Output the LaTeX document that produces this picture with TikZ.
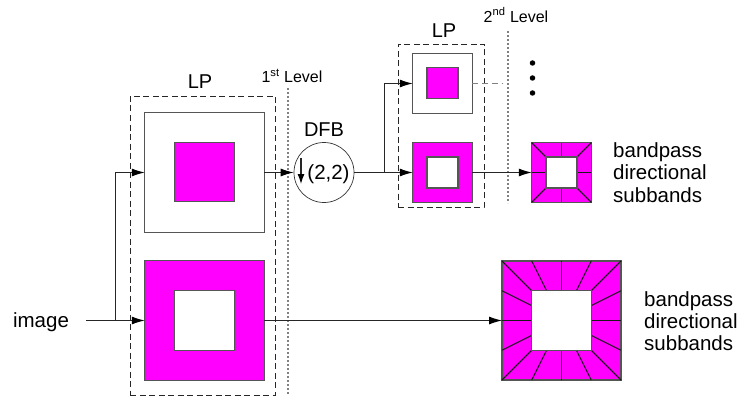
\documentclass[tikz,border=0pt]{standalone}
\usepackage{fontspec}
\setmainfont{Liberation Sans}
\usetikzlibrary{calc,arrows.meta}
\usepackage{xcolor}
\definecolor{band}{RGB}{255,0,255}
\definecolor{edge}{RGB}{85,85,85}
\begin{document}
\begin{tikzpicture}[x=1pt,y=-1pt,
			sq/.style={draw=edge,line width=1.1pt,inner sep=0pt,outer sep=0pt,minimum size=#1},
			lpbox/.style={draw=black!85,line width=0.95pt,dash pattern=on 6pt off 3.5pt,inner sep=0pt},
			lvl/.style={draw=gray,line width=1.1pt,dash pattern=on 2pt off 2pt},
			wire/.style={draw=black!85,line width=0.95pt},
			cut/.style={draw=black!90,line width=0.95pt},
			flow/.style={wire,-{Latex[length=13pt,width=8pt,black]}},
			lab/.style={inner sep=0pt,font=\fontsize{#1}{#1}\selectfont}]
			\useasboundingbox (0,0) rectangle (737,396);
			% first level
			\node [sq=119.5pt] (topa) at (204.5,172.5) {};
			\node [sq=59.5pt,fill=band] (topb) at (204.5,172) {};
			\node [sq=119.5pt,fill=band] (lowa) at (204.5,320.5) {};
			\node [sq=59.5pt,fill=white] (lowb) at (204.5,320.5) {};
			% second level
			\node [sq=59.5pt] (topc) at (442.5,83.5) {};
			\node [sq=31pt,fill=band] (topd) at (442.5,83) {};
			\node [sq=59.5pt,fill=band] (lowc) at (442.5,172.5) {};
			\node [sq=31pt,fill=white] (lowd) at (442.5,172.5) {};
			% subbands
			\node [sq=59.5pt,fill=band] (suba) at (561.5,172.5) {};
			\node [sq=119pt,fill=band] (subb) at (561.5,320.5) {};
			\foreach \f in {-1,0,1} {
				\draw [cut] ($(suba.center)+(\f*29.75,-29.75)$) -- ($(suba.center)+(\f*15,-15)$);
				\draw [cut] ($(suba.center)+(\f*29.75,29.75)$) -- ($(suba.center)+(\f*15,15)$);
				\draw [cut] ($(suba.center)+(-29.75,\f*29.75)$) -- ($(suba.center)+(-15,\f*15)$);
				\draw [cut] ($(suba.center)+(29.75,\f*29.75)$) -- ($(suba.center)+(15,\f*15)$);
			}
			\foreach \f in {-1,-0.5,0,0.5,1} {
				\draw [cut] ($(subb.center)+(\f*59.5,-59.5)$) -- ($(subb.center)+(\f*29.5,-29.5)$);
				\draw [cut] ($(subb.center)+(\f*59.5,59.5)$) -- ($(subb.center)+(\f*29.5,29.5)$);
				\draw [cut] ($(subb.center)+(-59.5,\f*59.5)$) -- ($(subb.center)+(-29.5,\f*29.5)$);
				\draw [cut] ($(subb.center)+(59.5,\f*59.5)$) -- ($(subb.center)+(29.5,\f*29.5)$);
			}
			\node [sq=31pt,fill=white] (sube) at (561.5,172.5) {};
			\node [sq=59.5pt,fill=white] (subf) at (561.5,320.5) {};
			% boxes and levels
			\node [lpbox,minimum width=145pt,minimum height=299pt] (lpa) at (202.5,245.5) {};
			\node [lpbox,minimum width=86pt,minimum height=163pt] (lpb) at (441,125.5) {};
			\node [lab=20] (lpalab) at (200,82) {LP};
			\node [lab=20] (lpblab) at (444,31) {LP};
			\coordinate (lvla) at (288,88);
			\coordinate (lvlb) at (288,396);
			\coordinate (lvlc) at (508,31);
			\coordinate (lvld) at (508,203);
			\draw [lvl] (lvla) -- (lvlb);
			\draw [lvl] (lvlc) -- (lvld);
			\node [lab=16] (lvlalab) at (292,76) {1\textsuperscript{st} Level};
			\node [lab=16] (lvlblab) at (516,15) {2\textsuperscript{nd} Level};
			% filter
			\node [draw=black!80,circle,line width=0.7pt,minimum size=60pt,inner sep=0pt] (dfb) at (324,172.5) {};
			\node [lab=20] (dfblab) at (324,130) {DFB};
			\node [lab=20.5] (dfbval) at (328.5,174) {(2,2)};
			\coordinate (dna) at (301,158);
			\coordinate (dnb) at (301,184);
			\draw [wire,line width=1.2pt,-{Latex[length=10pt,width=7pt,black]}] (dna) -- (dnb);
			% connectors
			\node [lab=20.5] (image) at (41,322) {image};
			\coordinate (imgout) at (86,320.5);
			\coordinate (spla) at (115.5,320.5);
			\coordinate (splb) at (384.5,172.5);
			\coordinate (dashend) at (503,83.5);
			\draw [flow] (imgout) -- (lowa.west);
			\draw [flow] (spla) |- (topa.west);
			\draw [flow] (topa.east) -- (dfb.west);
			\draw [flow] (lowa.east) -- (subb.west);
			\draw [flow] (dfb.east) -- (lowc.west);
			\draw [flow] (splb) |- (topc.west);
			\draw [flow] (lowc.east) -- (suba.west);
			\draw [wire,draw=gray,dash pattern=on 6pt off 4pt] (topc.east) -- (dashend);
			\foreach \y/\n in {63/a,78/b,93/c}
				\node [fill=black,circle,minimum size=5.5pt,inner sep=0pt] (dot\n) at (532.5,\y) {};
			% labels
			\node [lab=20.5,anchor=west,align=left] (suptxt) at (613,172.5) {bandpass\\[1.8pt]directional\\[1.8pt]subbands};
			\node [lab=20.5,anchor=west,align=left] (subtxt) at (644,321) {bandpass\\[1.8pt]directional\\[1.8pt]subbands};
		\end{tikzpicture}
\end{document}
